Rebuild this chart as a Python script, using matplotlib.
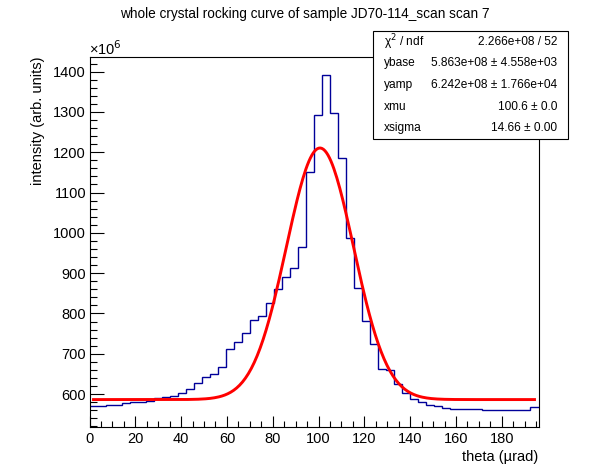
import numpy as np
import matplotlib
matplotlib.use("Agg")
import matplotlib.pyplot as plt
from matplotlib.ticker import MultipleLocator
from matplotlib.patches import Rectangle

plt.rcParams['font.family'] = ['Liberation Sans', 'DejaVu Sans']

# ---- data (intensity in units of 1e6) ----
bin_width = 3.5
n_bins = 56
counts = [570.6, 570.6, 573.1, 573.1, 578.1, 580.6, 580.6, 583.9, 589.7, 593.0,
          595.4, 602.9, 612.8, 627.7, 642.6, 650.0, 667.4, 712.1, 729.5, 751.8,
          784.0, 794.0, 826.2, 861.0, 890.7, 913.1, 965.2, 1151.3, 1293.5, 1392.0,
          1297.7, 1186.0, 987.5, 863.4, 781.6, 724.5, 663.3, 660.8, 625.2, 602.9,
          588.0, 580.6, 573.1, 570.6, 565.7, 563.2, 563.2, 563.2, 563.2, 560.7,
          560.7, 560.7, 560.7, 560.7, 560.7, 568.2]

# fit parameters
ybase = 5.863e+08
yamp = 6.242e+08
xmu = 100.6
xsigma = 14.66

stats_labels = ["χ$^2$ / ndf", "ybase", "yamp", "xmu", "xsigma"]
stats_values = ["2.266e+08 / 52", "5.863e+08 ± 4.558e+03",
                "6.242e+08 ± 1.766e+04", "100.6 ± 0.0", "14.66 ± 0.00"]

title = "whole crystal rocking curve of sample JD70-114_scan scan 7"
xlabel = "theta (µrad)"
ylabel = "intensity (arb. units)"

W, H = 598, 474
fig = plt.figure(figsize=(W / 100, H / 100), dpi=100)
L, R, T, B = 89.5, 538.5, 56.7, 426.7
ax = fig.add_axes([L / W, 1 - B / H, (R - L) / W, (B - T) / H])

edges = np.arange(n_bins + 1) * bin_width
ax.stairs(counts, edges, baseline=None, color='#000099', linewidth=1.0)

centers = edges[:-1] + bin_width / 2
xf = np.linspace(centers[0], centers[-1], 300)
yf = (ybase + yamp * np.exp(-0.5 * ((xf - xmu) / xsigma) ** 2)) / 1e6
ax.plot(xf, yf, color='#ff0000', linewidth=2.1)

ax.set_xlim(edges[0], edges[-1])
ax.set_ylim(519, 1437)

ax.set_xticks(np.arange(0, 181, 20))
ax.xaxis.set_minor_locator(MultipleLocator(5))
ax.set_yticks(np.arange(600, 1401, 100))
ax.yaxis.set_minor_locator(MultipleLocator(20))
ax.tick_params(axis='both', which='both', direction='in', top=False, right=False,
               labelsize=10.5, width=0.8)
ax.tick_params(axis='x', which='major', length=8, pad=3.5)
ax.tick_params(axis='x', which='minor', length=4)
ax.tick_params(axis='y', which='major', length=10, pad=2.5)
ax.tick_params(axis='y', which='minor', length=5)
for s in ax.spines.values():
    s.set_linewidth(0.8)

ax.set_xlabel(xlabel, fontsize=10.5, loc='right')
ax.xaxis.set_label_coords(1.0, -0.062)
ax.set_ylabel(ylabel, fontsize=10.5, loc='top')
ax.yaxis.set_label_coords(-0.10, 1.0)

fig.text(89 / W, 1 - 55 / H, "×10$^{6}$", fontsize=10.5, ha='left', va='baseline')
fig.text(0.51, 1 - 18 / H, title, fontsize=9.8, ha='center', va='baseline')

# stats box
bx0, bx1, by0, by1 = 373, 568, 31, 139
fig.patches.append(Rectangle((bx0 / W, 1 - by1 / H), (bx1 - bx0) / W, (by1 - by0) / H,
                             transform=fig.transFigure, facecolor='white',
                             edgecolor='black', linewidth=0.8, zorder=5))
row_h = (by1 - by0) / len(stats_labels)
for i, (lab, val) in enumerate(zip(stats_labels, stats_values)):
    yc = by0 + row_h * (i + 0.5)
    fig.text(384 / W, 1 - yc / H, lab, fontsize=8.6, ha='left', va='center', zorder=6)
    fig.text(557 / W, 1 - yc / H, val, fontsize=8.6, ha='right', va='center', zorder=6)

fig.savefig("out.png", dpi=100)
